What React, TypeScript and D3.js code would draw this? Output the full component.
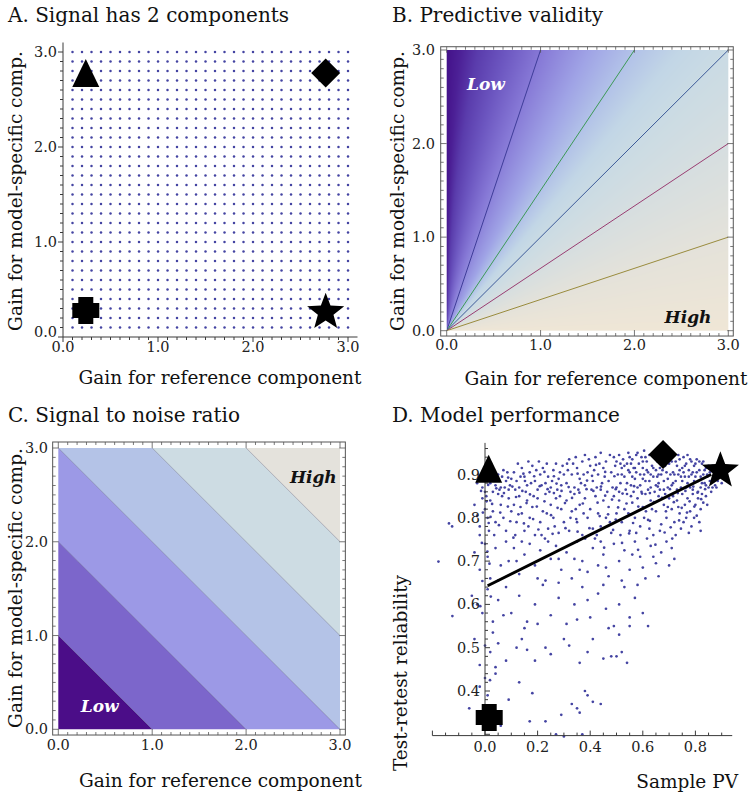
import React, { useMemo } from "react";
import * as d3 from "d3";

const W = 749;
const H = 797;
const FONT = "'DejaVu Serif', 'Liberation Serif', serif";
const AXIS = "#3a3a3a";
const DOT = "#4444a2";

// ---------- Panel A data ----------
const gainGrid = [0.1, 0.2, 0.3, 0.4, 0.5, 0.6, 0.7, 0.8, 0.9, 1.0, 1.1, 1.2, 1.3, 1.4, 1.5, 1.6, 1.7, 1.8, 1.9, 2.0, 2.1, 2.2, 2.3, 2.4, 2.5, 2.6, 2.7, 2.8, 2.9, 3.0];
const gainTicks = [0, 1, 2, 3];
const gainTickLabels = ["0.0", "1.0", "2.0", "3.0"];

type Shape = "triangle" | "diamond" | "cross" | "star";
const markerShapes: Shape[] = ["triangle", "diamond", "cross", "star"];
const markerRefGain = [0.24, 2.765, 0.24, 2.765];
const markerModelGain = [2.78, 2.78, 0.28, 0.28];
const markerPV = [0.014, 0.677, 0.016, 0.895];
const markerReliability = [0.913, 0.946, 0.339, 0.913];

// ---------- Panel B data ----------
const pvLineEnds: [number, number][] = [[1, 3], [2, 3], [3, 3], [3, 2], [3, 1]];
const pvLineColors = ["#3f3d99", "#3d9956", "#3d5a99", "#993d71", "#998b3d"];
const pvColorStops = [0, 0.03, 0.07, 0.13, 0.205, 0.3, 0.374, 0.44, 0.5, 0.626, 0.795, 1];
const pvColors = ["#44128a", "#4c2096", "#5a3cac", "#6c56c0", "#8678d6", "#a0a4e6", "#b2c2e8", "#c2d6e6", "#cadbe4", "#d6dee0", "#e4e2da", "#efe6d6"];

// ---------- Panel C data ----------
const snrLevels = [0, 1, 2, 3, 4, 5];
const snrColors = ["#4b0d88", "#7c66cb", "#9c99e6", "#b4c3e7", "#cddce3", "#e4e2dc"];

// ---------- Panel D data ----------
const pvTicks = [0, 0.2, 0.4, 0.6, 0.8];
const pvTickLabels = ["0.0", "0.2", "0.4", "0.6", "0.8"];
const relTicks = [0.4, 0.5, 0.6, 0.7, 0.8, 0.9];
const relTickLabels = ["0.4", "0.5", "0.6", "0.7", "0.8", "0.9"];
const fitLine: [number, number][] = [[0.01, 0.643], [0.86, 0.9]];
const samplePoints: [number, number][] = [
  [-0.02,0.89],[-0.01,0.87],[0.0,0.86],[0.02,0.88],[0.03,0.86],[0.05,0.9],[0.06,0.87],[0.07,0.91],[0.08,0.885],[0.09,0.865],[0.04,0.875],[0.065,0.895],[0.085,0.905],[0.1,0.89],[0.095,0.875],[-0.03,0.88],[0.01,0.9],[0.055,0.865],[0.075,0.87],[0.035,0.895],[-0.005,0.905],[0.02,0.915],
  [0.11,0.905],[0.12,0.885],[0.13,0.87],[0.14,0.915],[0.15,0.895],[0.16,0.875],[0.17,0.905],[0.18,0.92],[0.19,0.885],[0.2,0.865],[0.21,0.9],[0.22,0.915],[0.23,0.88],[0.24,0.895],[0.25,0.87],[0.26,0.91],[0.27,0.925],[0.28,0.89],[0.29,0.875],[0.3,0.9],[0.115,0.865],[0.135,0.895],[0.155,0.86],[0.175,0.88],[0.195,0.91],[0.215,0.875],[0.235,0.925],[0.255,0.885],[0.275,0.865],[0.295,0.92],[0.125,0.925],[0.165,0.93],[0.205,0.93],[0.245,0.86],[0.285,0.905],
  [0.31,0.88],[0.32,0.935],[0.33,0.9],[0.34,0.87],[0.35,0.915],[0.36,0.89],[0.37,0.93],[0.38,0.875],[0.39,0.905],[0.4,0.92],[0.41,0.885],[0.42,0.94],[0.43,0.9],[0.44,0.865],[0.45,0.915],[0.46,0.93],[0.47,0.885],[0.48,0.905],[0.49,0.94],[0.5,0.87],[0.315,0.91],[0.335,0.925],[0.355,0.865],[0.375,0.9],[0.395,0.935],[0.415,0.91],[0.435,0.925],[0.455,0.895],[0.475,0.945],[0.495,0.92],[0.325,0.86],[0.365,0.88],[0.405,0.865],[0.445,0.88],[0.485,0.87],[0.345,0.94],[0.425,0.87],[0.465,0.86],[0.38,0.945],[0.44,0.95],
  [0.5,0.93],[0.505,0.9],[0.51,0.945],[0.515,0.88],[0.52,0.915],[0.525,0.935],[0.53,0.895],[0.535,0.865],[0.54,0.925],[0.545,0.95],[0.55,0.905],[0.555,0.875],[0.56,0.935],[0.565,0.915],[0.57,0.89],[0.575,0.945],[0.58,0.87],[0.585,0.925],[0.59,0.9],[0.595,0.94],[0.6,0.915],[0.605,0.955],[0.61,0.885],[0.615,0.93],[0.62,0.905],[0.625,0.945],[0.63,0.87],[0.635,0.92],[0.64,0.895],[0.645,0.94],[0.65,0.91],[0.655,0.93],[0.66,0.88],[0.665,0.915],[0.67,0.9],[0.675,0.935],[0.68,0.865],[0.685,0.92],[0.69,0.945],[0.695,0.89],[0.7,0.925],[0.51,0.86],[0.53,0.92],[0.55,0.94],[0.57,0.915],[0.59,0.875],[0.61,0.94],[0.63,0.9],[0.65,0.875],[0.67,0.925],[0.69,0.905],[0.52,0.9],[0.54,0.88],[0.56,0.895],[0.58,0.95],[0.6,0.89],[0.62,0.865],[0.64,0.915],[0.66,0.9],[0.68,0.885],[0.7,0.945],[0.515,0.925],[0.565,0.86],[0.615,0.91],[0.665,0.865],[0.6,0.93],[0.575,0.905],[0.625,0.885],[0.675,0.91],[0.545,0.91],[0.595,0.86],[0.645,0.86],[0.695,0.87],[0.555,0.925],[0.605,0.9],[0.655,0.895],[0.705,0.9],
  [0.71,0.93],[0.715,0.905],[0.72,0.945],[0.725,0.885],[0.73,0.92],[0.735,0.9],[0.74,0.935],[0.745,0.87],[0.75,0.915],[0.755,0.94],[0.76,0.895],[0.765,0.925],[0.77,0.88],[0.775,0.91],[0.78,0.935],[0.785,0.9],[0.79,0.865],[0.795,0.92],[0.8,0.895],[0.805,0.935],[0.81,0.885],[0.815,0.91],[0.82,0.87],[0.825,0.925],[0.83,0.9],[0.835,0.88],[0.84,0.915],[0.845,0.895],[0.85,0.87],[0.855,0.905],[0.86,0.885],[0.865,0.92],[0.87,0.895],[0.875,0.875],[0.88,0.9],[0.885,0.885],[0.89,0.91],[0.71,0.875],[0.72,0.9],[0.73,0.865],[0.74,0.91],[0.75,0.885],[0.76,0.92],[0.77,0.945],[0.78,0.87],[0.79,0.905],[0.8,0.925],[0.81,0.86],[0.82,0.895],[0.83,0.93],[0.84,0.875],[0.85,0.92],[0.86,0.86],[0.87,0.91],[0.88,0.87],[0.725,0.93],[0.745,0.895],[0.765,0.87],[0.785,0.93],[0.805,0.905],[0.825,0.88],[0.845,0.9],[0.865,0.87],[0.715,0.88],[0.755,0.905],[0.795,0.885],[0.835,0.91],[0.875,0.895],[0.735,0.945],[0.775,0.895],[0.815,0.93],[0.855,0.885],[0.895,0.895],[0.9,0.88],
  [-0.04,0.83],[-0.03,0.805],[-0.02,0.78],[-0.01,0.845],[0.0,0.82],[0.01,0.8],[0.015,0.77],[0.02,0.84],[0.03,0.815],[0.04,0.79],[0.05,0.855],[0.06,0.83],[0.07,0.8],[0.08,0.77],[0.09,0.845],[0.1,0.815],[-0.02,0.76],[0.035,0.76],[0.065,0.85],[-0.137,0.787],[-0.125,0.78],[0.005,0.85],
  [0.11,0.83],[0.12,0.79],[0.13,0.85],[0.14,0.81],[0.15,0.77],[0.16,0.84],[0.17,0.8],[0.18,0.825],[0.19,0.76],[0.2,0.845],[0.21,0.79],[0.22,0.815],[0.23,0.855],[0.24,0.775],[0.25,0.83],[0.26,0.8],[0.27,0.845],[0.28,0.765],[0.29,0.82],[0.3,0.79],[0.115,0.76],[0.165,0.78],[0.215,0.76],[0.265,0.78],[0.135,0.825],[0.185,0.85],[0.235,0.81],[0.285,0.85],
  [0.31,0.84],[0.32,0.77],[0.33,0.815],[0.34,0.855],[0.35,0.79],[0.36,0.83],[0.37,0.76],[0.38,0.845],[0.39,0.8],[0.4,0.82],[0.41,0.775],[0.42,0.85],[0.43,0.81],[0.44,0.78],[0.45,0.84],[0.46,0.8],[0.47,0.825],[0.48,0.765],[0.49,0.85],[0.5,0.81],[0.325,0.8],[0.375,0.81],[0.425,0.76],[0.475,0.79],[0.345,0.82],
  [0.51,0.84],[0.52,0.79],[0.53,0.82],[0.54,0.855],[0.55,0.77],[0.56,0.835],[0.57,0.8],[0.58,0.845],[0.59,0.78],[0.6,0.825],[0.61,0.855],[0.62,0.795],[0.63,0.84],[0.64,0.76],[0.65,0.815],[0.66,0.85],[0.67,0.785],[0.68,0.83],[0.69,0.8],[0.7,0.845],[0.515,0.76],[0.545,0.81],[0.575,0.765],[0.605,0.8],[0.635,0.82],[0.665,0.77],[0.695,0.825],[0.555,0.85],[0.625,0.775],[0.685,0.855],
  [0.71,0.82],[0.715,0.85],[0.72,0.79],[0.73,0.84],[0.74,0.81],[0.745,0.775],[0.75,0.855],[0.76,0.83],[0.765,0.8],[0.77,0.845],[0.78,0.815],[0.785,0.78],[0.79,0.855],[0.8,0.83],[0.805,0.805],[0.81,0.845],[0.82,0.82],[0.825,0.855],[0.83,0.835],[0.84,0.85],[0.725,0.76],[0.755,0.79],[0.775,0.765],[0.795,0.8],[0.815,0.79],[0.735,0.825],[0.82,0.77],[0.845,0.83],
  [-0.177,0.699],[-0.04,0.72],[-0.02,0.68],[0.0,0.74],[0.01,0.71],[0.02,0.66],[0.04,0.73],[0.06,0.69],[0.08,0.745],[0.09,0.7],[0.11,0.73],[0.13,0.67],[0.15,0.715],[0.17,0.74],[0.19,0.69],[0.21,0.725],[0.23,0.655],[0.25,0.705],[0.27,0.735],[0.29,0.68],[0.31,0.72],[0.33,0.66],[0.35,0.745],[0.37,0.7],[0.39,0.675],[0.41,0.73],[0.43,0.69],[0.45,0.715],[0.47,0.665],[0.49,0.74],[0.51,0.7],[0.53,0.725],[0.55,0.68],[0.57,0.745],[0.59,0.71],[0.61,0.66],[0.63,0.735],[0.65,0.695],[0.67,0.72],[0.69,0.745],[0.71,0.73],[0.72,0.705],[0.66,0.665],[0.6,0.685],[0.52,0.655],[0.44,0.745],[0.36,0.68],[0.28,0.705],[0.2,0.66],[0.12,0.7],[0.05,0.655],[0.14,0.745],[0.24,0.745],[0.34,0.705],[0.46,0.685],[0.56,0.715],[0.64,0.71],[0.7,0.69],
  [-0.124,0.573],[-0.05,0.62],[-0.03,0.6],[-0.01,0.58],[0.01,0.635],[0.03,0.56],[0.05,0.61],[0.08,0.64],[0.1,0.58],[0.13,0.62],[0.16,0.56],[0.19,0.6],[0.22,0.645],[0.25,0.575],[0.28,0.615],[0.31,0.555],[0.34,0.6],[0.37,0.64],[0.4,0.57],[0.43,0.625],[0.46,0.59],[0.49,0.55],[0.51,0.6],[0.53,0.64],[0.55,0.57],[0.57,0.615],[0.6,0.58],[0.62,0.55],[0.45,0.645],[0.35,0.565],[0.2,0.555],[0.07,0.575],[0.58,0.645],[0.39,0.61],[0.28,0.65],
  [-0.04,0.52],[-0.02,0.46],[0.02,0.49],[0.05,0.51],[0.08,0.47],[0.12,0.5],[0.14,0.52],[0.16,0.495],[0.19,0.47],[0.23,0.5],[0.25,0.485],[0.3,0.52],[0.32,0.505],[0.36,0.465],[0.39,0.49],[0.41,0.52],[0.45,0.475],[0.47,0.545],[0.48,0.48],[0.5,0.48],[0.51,0.53],[0.52,0.49],[0.54,0.465],[0.55,0.55],[0.15,0.545],[0.04,0.455],
  [-0.06,0.36],[-0.02,0.41],[0.0,0.43],[0.04,0.44],[0.06,0.32],[0.09,0.38],[0.13,0.42],[0.17,0.33],[0.18,0.395],[0.23,0.33],[0.27,0.3],[0.29,0.345],[0.3,0.295],[0.33,0.37],[0.35,0.36],[0.36,0.35],[0.37,0.3],[0.38,0.4],[0.39,0.39],[0.41,0.375],[0.44,0.37],[0.01,0.39],
  [0.012,0.876],[0.027,0.832],[0.043,0.868],[0.058,0.812],[0.072,0.857],[0.087,0.826],[0.104,0.872],[0.118,0.848],[0.127,0.808],[0.142,0.862],[0.158,0.834],[0.171,0.854],[0.183,0.797],[0.197,0.826],[0.208,0.873],[0.226,0.838],[0.238,0.866],[0.251,0.806],[0.262,0.857],[0.276,0.823],[0.291,0.862],[0.304,0.834],[0.318,0.871],[0.331,0.846],[0.347,0.797],[0.359,0.858],[0.372,0.833],[0.386,0.866],[0.397,0.776],[0.021,0.802],[0.053,0.783],[0.096,0.792],[0.148,0.787],[0.203,0.773],[0.257,0.763],[0.306,0.776],[0.352,0.768],[0.108,0.754],[0.228,0.752],[0.381,0.752],
  [0.412,0.862],[0.428,0.835],[0.441,0.872],[0.457,0.851],[0.468,0.808],[0.483,0.842],[0.497,0.866],[0.506,0.824],[0.523,0.856],[0.538,0.833],[0.552,0.808],[0.567,0.873],[0.583,0.826],[0.597,0.856],[0.612,0.815],[0.627,0.857],[0.642,0.836],[0.657,0.872],[0.673,0.846],[0.688,0.815],[0.703,0.866],[0.718,0.836],[0.733,0.857],[0.748,0.823],[0.762,0.862],[0.778,0.838],[0.792,0.872],[0.808,0.858],[0.822,0.843],[0.837,0.866],[0.418,0.752],[0.453,0.731],[0.487,0.772],[0.521,0.742],[0.548,0.764],[0.582,0.726],[0.616,0.752],[0.648,0.738],[0.683,0.766],[0.712,0.752],[0.738,0.794],[0.768,0.812],[0.796,0.826],[0.706,0.778],[0.627,0.793],[0.563,0.788],[0.497,0.796],[0.436,0.804],
  [0.033,0.905],[0.088,0.893],[0.146,0.902],[0.187,0.896],[0.226,0.906],[0.262,0.896],[0.312,0.925],[0.352,0.902],[0.388,0.886],[0.422,0.922],[0.457,0.906],[0.492,0.896],[0.152,0.885],[0.272,0.879],[0.407,0.897],
  [-0.015,0.862],[0.006,0.838],[-0.008,0.812],[0.014,0.788],[-0.012,0.742],[0.009,0.722],[0.017,0.694],[-0.01,0.654],[0.022,0.618],[-0.018,0.596],[0.03,0.535],[0.0,0.505],[0.019,0.425],[0.042,0.345]
];

// ---------- Scales ----------
const ax = d3.scaleLinear().domain([0, 3]).range([63, 348]);
const ay = d3.scaleLinear().domain([0, 3]).range([337, 52]);
const bx = d3.scaleLinear().domain([0, 3]).range([446.7, 728.3]);
const by = d3.scaleLinear().domain([0, 3]).range([330.7, 50]);
const cx = d3.scaleLinear().domain([0, 3]).range([58.3, 340]);
const cy = d3.scaleLinear().domain([0, 3]).range([729.3, 448]);
const dx = d3.scaleLinear().domain([0, 0.8]).range([485, 695.4]);
const dy = d3.scaleLinear().domain([0.3, 0.9]).range([734.3, 474.5]);

const pvColor = d3.scaleLinear<string>().domain(pvColorStops).range(pvColors).interpolate(d3.interpolateRgb).clamp(true);

function range(a: number, b: number, s: number) {
  return d3.range(Math.round(a / s), Math.round(b / s) + 1).map((i) => +(i * s).toFixed(4));
}

function markerPath(s: Shape): string {
  if (s === "triangle") return "M0,-14L13.5,14L-13.5,14Z";
  if (s === "diamond") return "M0,-14.5L14.5,0L0,14.5L-14.5,0Z";
  if (s === "cross") {
    const a = 7.5, b = 13.5;
    return `M${-a},${-b}H${a}V${-a}H${b}V${a}H${a}V${b}H${-a}V${a}H${-b}V${-a}H${-a}Z`;
  }
  const R = 19.5, r = 8.2, off = 1.8;
  const pts: string[] = [];
  for (let i = 0; i < 10; i++) {
    const ang = -Math.PI / 2 + (i * Math.PI) / 5;
    const rad = i % 2 === 0 ? R : r;
    pts.push(`${(rad * Math.cos(ang)).toFixed(2)},${(rad * Math.sin(ang) + off).toFixed(2)}`);
  }
  return "M" + pts.join("L") + "Z";
}

const tickText = { fontFamily: FONT, fontSize: 14.5, fill: "#222" } as const;
const labelText = { fontFamily: FONT, fontSize: 18.5, fill: "#111" } as const;
const titleText = { fontFamily: FONT, fontSize: 20, fill: "#111" } as const;
const flagText = { fontFamily: FONT, fontSize: 17, fontWeight: "bold", fontStyle: "italic" } as const;

function FrameTicks({ sx, sy, x0, x1, y0, y1 }: any) {
  const minor = range(0, 3, 0.1);
  const out: JSX.Element[] = [];
  minor.forEach((v, i) => {
    const major = Math.abs(v - Math.round(v)) < 1e-6;
    const L = major ? 6 : 3;
    const X = sx(v), Y = sy(v);
    out.push(<line key={"b" + i} x1={X} x2={X} y1={y1} y2={y1 - L} />);
    out.push(<line key={"t" + i} x1={X} x2={X} y1={y0} y2={y0 + L} />);
    out.push(<line key={"l" + i} x1={x0} x2={x0 + L} y1={Y} y2={Y} />);
    out.push(<line key={"r" + i} x1={x1} x2={x1 - L} y1={Y} y2={Y} />);
  });
  return (
    <g stroke="#555" strokeWidth={0.8}>
      <rect x={x0} y={y0} width={x1 - x0} height={y1 - y0} fill="none" strokeWidth={1} />
      {out}
    </g>
  );
}

function PanelA() {
  const minor = range(0, 3, 0.1);
  return (
    <g>
      <text x={8} y={22} {...titleText}>A. Signal has 2 components</text>
      <g fill={DOT}>
        {gainGrid.map((gx) => gainGrid.map((gy) => <circle key={gx + "_" + gy} cx={ax(gx)} cy={ay(gy)} r={1.25} />))}
      </g>
      <g stroke={AXIS} strokeWidth={1}>
        <line x1={ax(0)} x2={ax(3.1)} y1={ay(0)} y2={ay(0)} />
        <line x1={ax(0)} x2={ax(0)} y1={ay(0)} y2={ay(3.1)} />
        {minor.map((v, i) => {
          const major = Math.abs(v - Math.round(v)) < 1e-6;
          const L = major ? 5 : 3;
          return (
            <g key={i}>
              <line x1={ax(v)} x2={ax(v)} y1={ay(0)} y2={ay(0) + L} />
              <line x1={ax(0)} x2={ax(0) - L} y1={ay(v)} y2={ay(v)} />
            </g>
          );
        })}
      </g>
      {gainTicks.map((v, i) => (
        <text key={"x" + i} x={ax(v)} y={352} textAnchor="middle" {...tickText}>{gainTickLabels[i]}</text>
      ))}
      {gainTicks.map((v, i) => (
        <text key={"y" + i} x={57} y={ay(v) - (v === 0 ? 5 : 0)} dy="0.35em" textAnchor="end" {...tickText}>{gainTickLabels[i]}</text>
      ))}
      {markerShapes.map((s, i) => (
        <path key={s} d={markerPath(s)} transform={`translate(${ax(markerRefGain[i])},${ay(markerModelGain[i])})`} fill="#000" />
      ))}
      <text x={220} y={384} textAnchor="middle" {...labelText}>Gain for reference component</text>
      <text transform="translate(22,191) rotate(-90)" textAnchor="middle" {...labelText}>Gain for model-specific comp.</text>
    </g>
  );
}

function DensityB() {
  const x0 = bx(0), x1 = bx(3), y0 = by(3), y1 = by(0);
  const w = Math.round(x1 - x0), h = Math.round(y1 - y0);
  const url = useMemo(() => {
    const c = document.createElement("canvas");
    c.width = w;
    c.height = h;
    const ctx = c.getContext("2d");
    if (!ctx) return "";
    const img = ctx.createImageData(w, h);
    for (let j = 0; j < h; j++) {
      const b = Math.max(0, by.invert(y0 + ((j + 0.5) * (y1 - y0)) / h));
      for (let i = 0; i < w; i++) {
        const a = Math.max(0, bx.invert(x0 + ((i + 0.5) * (x1 - x0)) / w));
        let t = Math.atan2(a, b) / (Math.PI / 2);
        const r = Math.min(Math.hypot(a, b) / 3, 1);
        const p = 0.45 + 0.55 * r;
        if (t < 0.3) t = 0.3 * Math.pow(t / 0.3, p);
        const col = d3.rgb(pvColor(t));
        const k = (j * w + i) * 4;
        img.data[k] = col.r;
        img.data[k + 1] = col.g;
        img.data[k + 2] = col.b;
        img.data[k + 3] = 255;
      }
    }
    ctx.putImageData(img, 0, 0);
    return c.toDataURL();
  }, []);
  return <image href={url} x={x0} y={y0} width={x1 - x0} height={y1 - y0} preserveAspectRatio="none" />;
}

function PanelB() {
  const fx0 = bx(-0.064), fx1 = bx(3.053), fy0 = by(3.035), fy1 = by(-0.057);
  return (
    <g>
      <text x={392} y={22} {...titleText}>B. Predictive validity</text>
      <DensityB />
      <clipPath id="clipB">
        <rect x={bx(0)} y={by(3)} width={bx(3) - bx(0)} height={by(0) - by(3)} />
      </clipPath>
      <g clipPath="url(#clipB)">
        {pvLineEnds.map((e, i) => (
          <line key={i} x1={bx(0)} y1={by(0)} x2={bx(e[0])} y2={by(e[1])} stroke={pvLineColors[i]} strokeWidth={1} />
        ))}
      </g>
      <FrameTicks sx={bx} sy={by} x0={fx0} x1={fx1} y0={fy0} y1={fy1} />
      {gainTicks.map((v, i) => (
        <text key={"x" + i} x={bx(v)} y={350} textAnchor="middle" {...tickText}>{gainTickLabels[i]}</text>
      ))}
      {gainTicks.map((v, i) => (
        <text key={"y" + i} x={435} y={by(v)} dy="0.35em" textAnchor="end" {...tickText}>{gainTickLabels[i]}</text>
      ))}
      <text x={bx(0.216)} y={by(2.57)} fill="#fff" {...flagText}>Low</text>
      <text x={bx(2.82)} y={by(0.08)} textAnchor="end" fill="#111" {...flagText}>High</text>
      <text x={606} y={385} textAnchor="middle" {...labelText}>Gain for reference component</text>
      <text transform="translate(404,191) rotate(-90)" textAnchor="middle" {...labelText}>Gain for model-specific comp.</text>
    </g>
  );
}

function PanelC() {
  const fx0 = cx(-0.06), fx1 = cx(3.057), fy0 = cy(3.064), fy1 = cy(-0.061);
  const BIG = 20;
  const band = (k: number) => {
    const hi = k === snrLevels[snrLevels.length - 1] ? 100 : k + 1;
    const pts: [number, number][] = [[k + BIG, -BIG], [-BIG, k + BIG], [-BIG, hi + BIG], [hi + BIG, -BIG]];
    return pts.map((p) => `${cx(p[0])},${cy(p[1])}`).join(" ");
  };
  return (
    <g>
      <text x={8} y={422} {...titleText}>C. Signal to noise ratio</text>
      <clipPath id="clipC">
        <rect x={cx(0)} y={cy(3)} width={cx(3) - cx(0)} height={cy(0) - cy(3)} />
      </clipPath>
      <g clipPath="url(#clipC)">
        {snrLevels.map((k, i) => (
          <polygon key={k} points={band(k)} fill={snrColors[i]} />
        ))}
        {snrLevels.slice(1).map((k) => (
          <line key={"l" + k} x1={cx(k + BIG)} y1={cy(-BIG)} x2={cx(-BIG)} y2={cy(k + BIG)} stroke="#1a1a40" strokeOpacity={0.28} strokeWidth={1} />
        ))}
      </g>
      <FrameTicks sx={cx} sy={cy} x0={fx0} x1={fx1} y0={fy0} y1={fy1} />
      {gainTicks.map((v, i) => (
        <text key={"x" + i} x={cx(v)} y={750} textAnchor="middle" {...tickText}>{gainTickLabels[i]}</text>
      ))}
      {gainTicks.map((v, i) => (
        <text key={"y" + i} x={48} y={cy(v)} dy="0.35em" textAnchor="end" {...tickText}>{gainTickLabels[i]}</text>
      ))}
      <text x={cx(0.24)} y={cy(0.18)} fill="#fff" {...flagText}>Low</text>
      <text x={cx(2.965)} y={cy(2.63)} textAnchor="end" fill="#111" {...flagText}>High</text>
      <text x={220.5} y={787} textAnchor="middle" {...labelText}>Gain for reference component</text>
      <text transform="translate(22,588) rotate(-90)" textAnchor="middle" {...labelText}>Gain for model-specific comp.</text>
    </g>
  );
}

function PanelD() {
  const yCross = 0.297;
  const xMinor = range(-0.2, 0.9, 0.05);
  const yMinor = range(0.3, 0.96, 0.02);
  const isMajorX = (v: number) => Math.abs(v * 5 - Math.round(v * 5)) < 1e-6;
  const isMajorY = (v: number) => Math.abs(v * 10 - Math.round(v * 10)) < 1e-6;
  return (
    <g>
      <text x={392} y={422} {...titleText}>D. Model performance</text>
      <g fill={DOT}>
        {samplePoints.map((p, i) => (
          <circle key={i} cx={dx(p[0])} cy={dy(p[1])} r={1.35} />
        ))}
      </g>
      <g stroke={AXIS} strokeWidth={1}>
        <line x1={dx(-0.2)} x2={dx(0.94)} y1={dy(yCross)} y2={dy(yCross)} />
        <line x1={dx(0)} x2={dx(0)} y1={dy(yCross)} y2={dy(0.973)} />
        {xMinor.map((v, i) => (
          <line key={"x" + i} x1={dx(v)} x2={dx(v)} y1={dy(yCross)} y2={dy(yCross) - (isMajorX(v) ? 5 : 3)} />
        ))}
        {yMinor.map((v, i) => (
          <line key={"y" + i} x1={dx(0)} x2={dx(0) + (isMajorY(v) ? 5 : 3)} y1={dy(v)} y2={dy(v)} />
        ))}
      </g>
      {pvTicks.map((v, i) => (
        <text key={"xl" + i} x={dx(v)} y={752} textAnchor="middle" {...tickText}>{pvTickLabels[i]}</text>
      ))}
      {relTicks.map((v, i) => (
        <text key={"yl" + i} x={480} y={dy(v)} dy="0.35em" textAnchor="end" {...tickText}>{relTickLabels[i]}</text>
      ))}
      <line x1={dx(fitLine[0][0])} y1={dy(fitLine[0][1])} x2={dx(fitLine[1][0])} y2={dy(fitLine[1][1])} stroke="#000" strokeWidth={3} />
      {markerShapes.map((s, i) => (
        <path key={s} d={markerPath(s)} transform={`translate(${dx(markerPV[i])},${dy(markerReliability[i])})`} fill="#000" />
      ))}
      <text x={738} y={788} textAnchor="end" {...labelText}>Sample PV</text>
      <text transform="translate(407,673) rotate(-90)" textAnchor="middle" {...labelText}>Test-retest reliability</text>
    </g>
  );
}

export default function App() {
  return (
    <svg width={W} height={H} viewBox={`0 0 ${W} ${H}`} style={{ position: "absolute", left: 0, top: 0, background: "#fff" }}>
      <rect width={W} height={H} fill="#fff" />
      <PanelA />
      <PanelB />
      <PanelC />
      <PanelD />
    </svg>
  );
}
